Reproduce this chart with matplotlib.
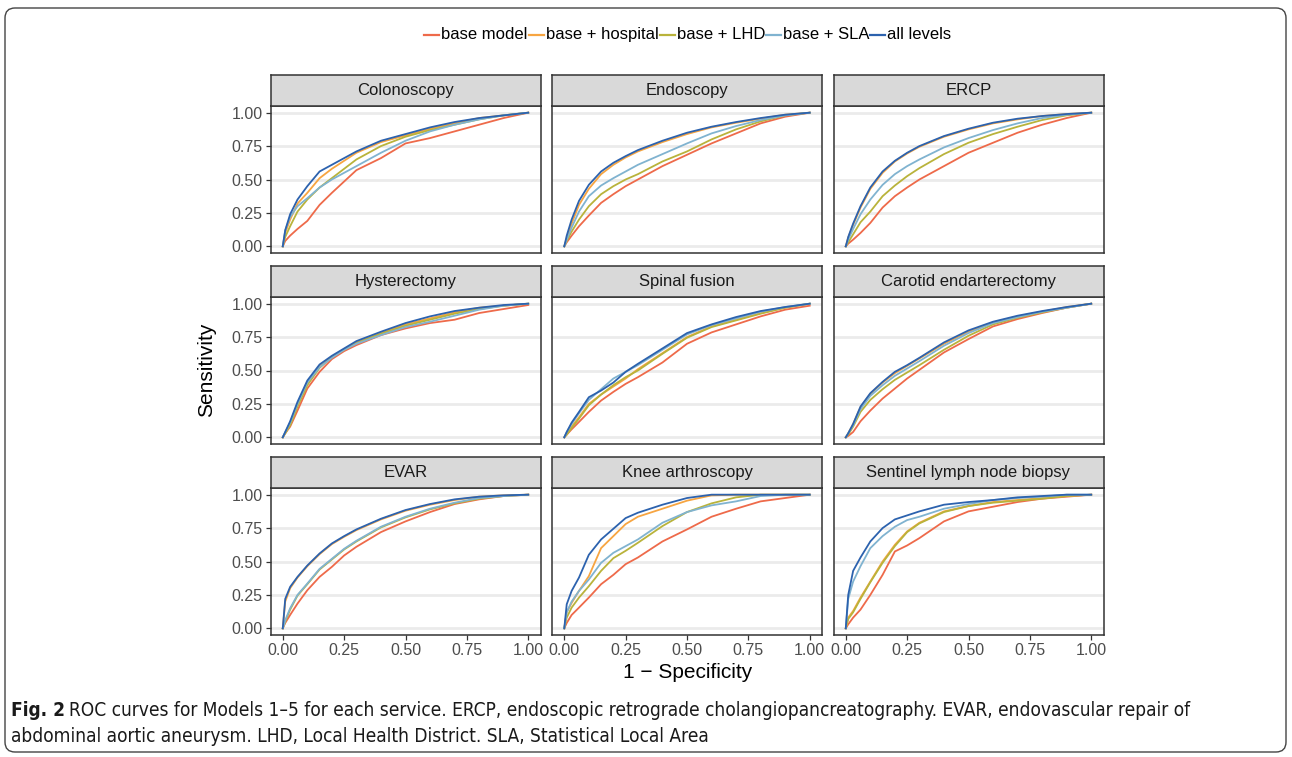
import matplotlib
matplotlib.use('Agg')
import matplotlib.pyplot as plt
from matplotlib.lines import Line2D
from matplotlib.patches import FancyBboxPatch
from matplotlib.transforms import IdentityTransform

plt.rcParams['font.family'] = ['Liberation Sans', 'DejaVu Sans']

models = ['base model', 'base + hospital', 'base + LHD', 'base + SLA', 'all levels']
modelColours = ['#EE6A4A', '#F7A541', '#B9B33B', '#80B3D0', '#2C62AE']

# 1 - specificity, shared grid for all curves
fpr = [0, 0.01, 0.03, 0.06, 0.1, 0.15, 0.2, 0.25, 0.3, 0.4, 0.5, 0.6, 0.7, 0.8, 0.9, 1.0]

services = ['Colonoscopy', 'Endoscopy', 'ERCP',
            'Hysterectomy', 'Spinal fusion', 'Carotid endarterectomy',
            'EVAR', 'Knee arthroscopy', 'Sentinel lymph node biopsy']

# sensitivity, rows in model order
colonoscopy = [
    [0, 0.04, 0.08, 0.13, 0.19, 0.31, 0.40, 0.485, 0.57, 0.66, 0.77, 0.81, 0.86, 0.91, 0.96, 1.0],
    [0, 0.10, 0.20, 0.32, 0.40, 0.51, 0.58, 0.64, 0.70, 0.78, 0.83, 0.88, 0.92, 0.96, 0.98, 1.0],
    [0, 0.07, 0.15, 0.26, 0.35, 0.44, 0.51, 0.58, 0.65, 0.75, 0.82, 0.87, 0.91, 0.95, 0.98, 1.0],
    [0, 0.12, 0.22, 0.30, 0.36, 0.44, 0.50, 0.55, 0.60, 0.70, 0.79, 0.86, 0.91, 0.95, 0.98, 1.0],
    [0, 0.12, 0.24, 0.35, 0.45, 0.56, 0.61, 0.66, 0.71, 0.79, 0.84, 0.89, 0.93, 0.96, 0.98, 1.0],
]
endoscopy = [
    [0, 0.03, 0.08, 0.15, 0.23, 0.325, 0.39, 0.45, 0.50, 0.60, 0.685, 0.77, 0.845, 0.92, 0.97, 1.0],
    [0, 0.06, 0.17, 0.31, 0.43, 0.54, 0.61, 0.665, 0.71, 0.78, 0.84, 0.89, 0.925, 0.955, 0.985, 1.0],
    [0, 0.04, 0.11, 0.20, 0.30, 0.39, 0.45, 0.50, 0.54, 0.635, 0.71, 0.80, 0.875, 0.935, 0.98, 1.0],
    [0, 0.05, 0.14, 0.26, 0.375, 0.455, 0.51, 0.56, 0.61, 0.69, 0.77, 0.845, 0.90, 0.945, 0.98, 1.0],
    [0, 0.08, 0.20, 0.34, 0.46, 0.56, 0.625, 0.675, 0.72, 0.79, 0.85, 0.895, 0.93, 0.96, 0.985, 1.0],
]
ercp = [
    [0, 0.02, 0.05, 0.10, 0.175, 0.29, 0.375, 0.44, 0.50, 0.60, 0.70, 0.775, 0.85, 0.91, 0.96, 1.0],
    [0, 0.065, 0.16, 0.29, 0.43, 0.55, 0.635, 0.695, 0.745, 0.82, 0.875, 0.92, 0.95, 0.975, 0.99, 1.0],
    [0, 0.03, 0.09, 0.18, 0.26, 0.375, 0.455, 0.525, 0.585, 0.69, 0.775, 0.84, 0.895, 0.945, 0.98, 1.0],
    [0, 0.05, 0.13, 0.24, 0.35, 0.46, 0.54, 0.60, 0.65, 0.74, 0.81, 0.87, 0.92, 0.96, 0.985, 1.0],
    [0, 0.07, 0.17, 0.30, 0.44, 0.56, 0.64, 0.70, 0.75, 0.825, 0.88, 0.925, 0.955, 0.975, 0.99, 1.0],
]
hysterectomy = [
    [0, 0.03, 0.08, 0.20, 0.365, 0.49, 0.585, 0.645, 0.69, 0.765, 0.815, 0.855, 0.88, 0.93, 0.96, 0.99],
    [0, 0.03, 0.10, 0.24, 0.40, 0.53, 0.60, 0.66, 0.71, 0.78, 0.845, 0.89, 0.935, 0.97, 0.985, 1.0],
    [0, 0.03, 0.09, 0.23, 0.39, 0.52, 0.60, 0.655, 0.705, 0.775, 0.835, 0.88, 0.925, 0.96, 0.985, 1.0],
    [0, 0.04, 0.11, 0.25, 0.41, 0.525, 0.595, 0.655, 0.70, 0.765, 0.825, 0.865, 0.91, 0.955, 0.985, 1.0],
    [0, 0.04, 0.12, 0.265, 0.425, 0.545, 0.61, 0.665, 0.72, 0.79, 0.855, 0.905, 0.945, 0.97, 0.99, 1.0],
]
spinalFusion = [
    [0, 0.02, 0.06, 0.115, 0.19, 0.275, 0.34, 0.40, 0.45, 0.56, 0.70, 0.785, 0.845, 0.905, 0.955, 0.985],
    [0, 0.03, 0.08, 0.15, 0.25, 0.32, 0.38, 0.44, 0.51, 0.63, 0.75, 0.83, 0.88, 0.93, 0.97, 1.0],
    [0, 0.02, 0.07, 0.14, 0.24, 0.32, 0.39, 0.45, 0.50, 0.625, 0.745, 0.825, 0.875, 0.925, 0.97, 1.0],
    [0, 0.04, 0.10, 0.18, 0.28, 0.36, 0.44, 0.49, 0.54, 0.655, 0.77, 0.84, 0.89, 0.94, 0.975, 1.0],
    [0, 0.04, 0.11, 0.19, 0.30, 0.35, 0.41, 0.49, 0.55, 0.665, 0.78, 0.845, 0.90, 0.945, 0.975, 1.0],
]
carotid = [
    [0, 0.01, 0.04, 0.12, 0.20, 0.29, 0.365, 0.44, 0.505, 0.635, 0.735, 0.83, 0.885, 0.93, 0.97, 1.0],
    [0, 0.03, 0.10, 0.225, 0.325, 0.41, 0.48, 0.535, 0.59, 0.70, 0.79, 0.86, 0.905, 0.94, 0.975, 1.0],
    [0, 0.02, 0.08, 0.19, 0.28, 0.36, 0.43, 0.485, 0.54, 0.655, 0.76, 0.845, 0.895, 0.935, 0.97, 1.0],
    [0, 0.03, 0.09, 0.21, 0.31, 0.39, 0.46, 0.515, 0.57, 0.685, 0.78, 0.855, 0.90, 0.94, 0.97, 1.0],
    [0, 0.03, 0.10, 0.23, 0.33, 0.415, 0.49, 0.54, 0.595, 0.71, 0.80, 0.865, 0.91, 0.945, 0.975, 1.0],
]
evar = [
    [0, 0.04, 0.10, 0.185, 0.285, 0.385, 0.46, 0.545, 0.61, 0.72, 0.80, 0.87, 0.93, 0.965, 0.99, 1.0],
    [0, 0.20, 0.30, 0.38, 0.465, 0.555, 0.63, 0.685, 0.735, 0.815, 0.88, 0.925, 0.96, 0.985, 0.995, 1.0],
    [0, 0.05, 0.14, 0.245, 0.33, 0.44, 0.515, 0.59, 0.65, 0.755, 0.83, 0.89, 0.935, 0.97, 0.99, 1.0],
    [0, 0.06, 0.15, 0.25, 0.335, 0.445, 0.52, 0.595, 0.655, 0.76, 0.835, 0.895, 0.94, 0.975, 0.99, 1.0],
    [0, 0.22, 0.31, 0.385, 0.47, 0.56, 0.635, 0.69, 0.74, 0.82, 0.885, 0.93, 0.965, 0.985, 0.995, 1.0],
]
kneeArthroscopy = [
    [0, 0.04, 0.10, 0.155, 0.23, 0.33, 0.40, 0.48, 0.53, 0.65, 0.74, 0.835, 0.895, 0.95, 0.975, 1.0],
    [0, 0.12, 0.19, 0.28, 0.39, 0.60, 0.69, 0.78, 0.835, 0.895, 0.955, 0.995, 1.0, 1.0, 1.0, 1.0],
    [0, 0.08, 0.155, 0.23, 0.315, 0.43, 0.525, 0.58, 0.64, 0.765, 0.87, 0.935, 0.98, 1.0, 1.0, 1.0],
    [0, 0.12, 0.20, 0.28, 0.365, 0.49, 0.565, 0.615, 0.665, 0.79, 0.87, 0.92, 0.95, 0.99, 1.0, 1.0],
    [0, 0.18, 0.28, 0.38, 0.55, 0.665, 0.745, 0.825, 0.865, 0.925, 0.975, 1.0, 1.0, 1.0, 1.0, 1.0],
]
sentinelNode = [
    [0, 0.03, 0.08, 0.14, 0.25, 0.40, 0.575, 0.62, 0.675, 0.80, 0.875, 0.91, 0.945, 0.97, 0.985, 1.0],
    [0, 0.08, 0.13, 0.23, 0.35, 0.50, 0.625, 0.725, 0.79, 0.875, 0.915, 0.945, 0.96, 0.975, 0.99, 1.0],
    [0, 0.07, 0.12, 0.22, 0.345, 0.49, 0.615, 0.72, 0.785, 0.87, 0.915, 0.94, 0.955, 0.97, 0.99, 1.0],
    [0, 0.22, 0.35, 0.465, 0.60, 0.69, 0.76, 0.81, 0.835, 0.895, 0.93, 0.96, 0.975, 0.985, 1.0, 1.0],
    [0, 0.25, 0.43, 0.53, 0.65, 0.75, 0.815, 0.845, 0.875, 0.925, 0.945, 0.96, 0.98, 0.99, 1.0, 1.0],
]
allTpr = [colonoscopy, endoscopy, ercp, hysterectomy, spinalFusion, carotid,
          evar, kneeArthroscopy, sentinelNode]

ticks = [0, 0.25, 0.5, 0.75, 1.0]
tickLabels = ['0.00', '0.25', '0.50', '0.75', '1.00']

captionLine1 = ('ROC curves for Models 1\u20135 for each service. ERCP, endoscopic retrograde '
                'cholangiopancreatography. EVAR, endovascular repair of')
captionLine2 = 'abdominal aortic aneurysm. LHD, Local Health District. SLA, Statistical Local Area'

W, H = 1292, 757
fig = plt.figure(figsize=(W / 100, H / 100), dpi=100)


def px(x, y, w, h):
    # pixel box measured from top-left -> figure fraction
    return [x / W, 1 - (y + h) / H, w / W, h / H]


for k, (name, tpr) in enumerate(zip(services, allTpr)):
    row, col = divmod(k, 3)
    left = 270.5 + col * 281.5
    top = 106 + row * 191
    ax = fig.add_axes(px(left, top, 270, 147))
    for y, c in zip(tpr, modelColours):
        ax.plot(fpr, y, color=c, lw=1.3, solid_joinstyle='round')
    ax.set_xlim(-0.05, 1.05)
    ax.set_ylim(-0.05, 1.05)
    ax.set_xticks(ticks)
    ax.set_yticks(ticks)
    ax.set_xticklabels(tickLabels)
    ax.set_yticklabels(tickLabels)
    ax.yaxis.grid(True, color='#EBEBEB', lw=2.0)
    ax.set_axisbelow(True)
    for s in ax.spines.values():
        s.set_color('#333333')
        s.set_linewidth(1.1)
    ax.tick_params(length=3.5, width=0.9, color='#333333', labelcolor='#4D4D4D',
                   labelsize=11.5, pad=2)
    if col > 0:
        ax.tick_params(left=False, labelleft=False)
    if row < 2:
        ax.tick_params(bottom=False, labelbottom=False)

    strip = fig.add_axes(px(left, top - 31, 270, 31))
    strip.set_facecolor('#D9D9D9')
    strip.set_xticks([])
    strip.set_yticks([])
    for s in strip.spines.values():
        s.set_color('#333333')
        s.set_linewidth(1.1)
    strip.text(0.5, 0.5, name, ha='center', va='center', fontsize=12,
               color='#1A1A1A', transform=strip.transAxes)

fig.text(207 / W, 1 - 370 / H, 'Sensitivity', rotation=90, ha='center', va='center', fontsize=15)
fig.text(688 / W, 1 - 673 / H, '1 \u2212 Specificity', ha='center', va='center', fontsize=15)

# legend drawn by hand so all labels share one baseline
pix = IdentityTransform()
legY = H - 39
keyLen, keyGap, itemGap = 15, 2, 1
legTexts = [fig.text(0, 0, m, fontsize=12, transform=pix) for m in models]
fig.canvas.draw()
renderer = fig.canvas.get_renderer()
widths = [t.get_window_extent(renderer).width for t in legTexts]
total = sum(widths) + len(models) * (keyLen + keyGap) + (len(models) - 1) * itemGap
x = 688 - total / 2
for t, w, c in zip(legTexts, widths, modelColours):
    fig.add_artist(Line2D([x, x + keyLen], [legY + 4.5, legY + 4.5], color=c, lw=1.6,
                          transform=pix))
    t.set_position((x + keyLen + keyGap, legY))
    t.set_va('baseline')
    x += keyLen + keyGap + w + itemGap

# caption, fitted to the reference line width
capKw = dict(family=['DejaVu Sans'], fontstretch='condensed', color='#1A1A1A', va='center',
             transform=pix)
capSize = 13
t1 = fig.text(11, H - 710, 'Fig. 2', weight='bold', fontsize=capSize, **capKw)
t2 = fig.text(0, H - 710, captionLine1, fontsize=capSize, **capKw)
fig.canvas.draw()
lineW = t1.get_window_extent(renderer).width + 4 + t2.get_window_extent(renderer).width
capSize = capSize * 1182 / lineW
t1.set_fontsize(capSize)
t2.set_fontsize(capSize)
fig.canvas.draw()
t2.set_position((t1.get_window_extent(renderer).x1 + 4, H - 710))
fig.text(11, H - 736, captionLine2, fontsize=capSize, **capKw)

border = FancyBboxPatch((5, 5), 1281, 744, boxstyle='round,pad=0,rounding_size=10',
                        transform=pix, fill=False, ec='#444444', lw=1.0)
fig.add_artist(border)

fig.savefig('out.png', dpi=100)
